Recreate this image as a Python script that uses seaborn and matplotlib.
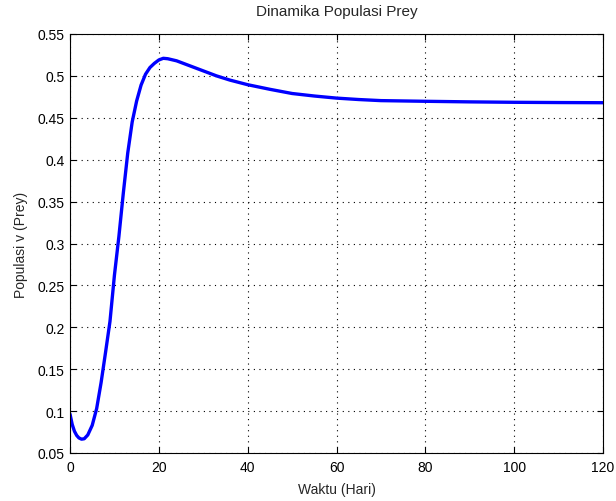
import matplotlib
matplotlib.use("Agg")
import matplotlib.pyplot as plt
import seaborn as sns
import pandas as pd
from matplotlib.ticker import FixedLocator, FuncFormatter

waktu = [0, 0.5, 1, 1.5, 2, 2.6, 3.2, 4, 5, 6, 7, 8, 9, 10, 11, 12, 13, 14, 15, 16,
         17, 18, 19, 20, 21, 22, 24, 26, 28, 30, 33, 36, 40, 45, 50, 55, 60, 65, 70,
         80, 90, 100, 110, 120]
prey = [0.0965, 0.084, 0.076, 0.071, 0.0680, 0.0665, 0.0670, 0.0715, 0.083, 0.103,
        0.134, 0.170, 0.207, 0.262, 0.308, 0.360, 0.408, 0.445, 0.470, 0.489,
        0.502, 0.510, 0.515, 0.519, 0.521, 0.5205, 0.518, 0.514, 0.510, 0.506,
        0.500, 0.495, 0.4895, 0.484, 0.479, 0.476, 0.4735, 0.4718, 0.4705,
        0.4697, 0.469, 0.4685, 0.4682, 0.468]
xticks = [0, 20, 40, 60, 80, 100, 120]
yticks = [0.05, 0.1, 0.15, 0.2, 0.25, 0.3, 0.35, 0.4, 0.45, 0.5, 0.55]

sns.set_style("white")
plt.rcParams['font.family'] = ['Liberation Sans', 'DejaVu Sans']

df = pd.DataFrame({"Waktu": waktu, "Prey": prey})
fig = plt.figure(figsize=(6.16, 5.02), dpi=100)
ax = fig.add_axes([70/616, 1-454/502, 533/616, 419/502])
sns.lineplot(data=df, x="Waktu", y="Prey", ax=ax, color="#0000ff", linewidth=2.4)

ax.set_xlim(0, 120)
ax.set_ylim(0.05, 0.55)
ax.xaxis.set_major_locator(FixedLocator(xticks))
ax.yaxis.set_major_locator(FixedLocator(yticks))
ax.yaxis.set_major_formatter(FuncFormatter(lambda v, p: ("%.2f" % v).rstrip('0').rstrip('.')))
ax.grid(True, color="black", linestyle=(0, (1, 4)), linewidth=0.8)
ax.tick_params(direction="in", length=4, width=0.8, labelsize=10, colors="black",
               top=True, right=True, bottom=True, left=True)
ax.tick_params(axis="x", pad=5)
ax.tick_params(axis="y", pad=4)
for s in ax.spines.values():
    s.set_color("black")
    s.set_linewidth(0.8)
ax.set_xlabel("Waktu (Hari)", fontsize=10, labelpad=6)
ax.set_ylabel("Populasi v (Prey)", fontsize=10, labelpad=7)
ax.set_title("Dinamika Populasi Prey", fontsize=11, pad=14)
fig.savefig("out.png", dpi=100, facecolor="white")
